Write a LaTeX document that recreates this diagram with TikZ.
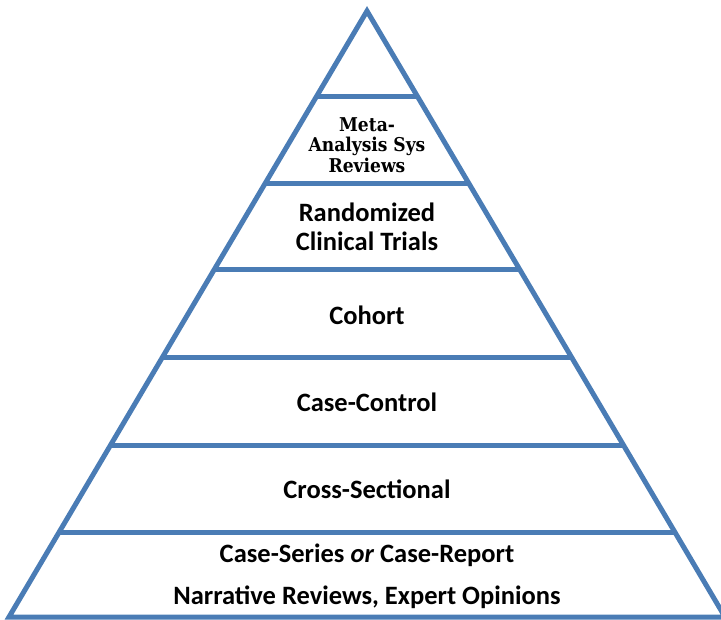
\documentclass[tikz,border=0pt]{standalone}
\usepackage{fontspec}
\setmainfont{Carlito}
\newfontfamily\metafont{DejaVu Serif Condensed}
\usetikzlibrary{calc}
\definecolor{pyrblue}{RGB}{74,124,181}
\tikzset{
  edge/.style={draw=pyrblue, line width=5pt, line join=miter},
  tier/.style={font=\bfseries\fontsize{26.5}{29}\selectfont, align=center, inner sep=0pt},
  toptier/.style={font=\metafont\bfseries\fontsize{19}{20.5}\selectfont, align=center, inner sep=0pt}
}
\begin{document}
\begin{tikzpicture}[x=1pt,y=-1pt]
  \useasboundingbox (0,0) rectangle (721,620);
  \coordinate (apex) at (367,11);
  \coordinate (bl) at (9,617);
  \coordinate (br) at (725,617);
  % outer triangle
  \draw[edge] (apex) -- (bl) -- (br) -- cycle;
  % tier dividers
  \foreach \y/\n in {97/a,184/b,270/c,358/d,446/e,533/f}{
    \coordinate (l\n) at ($(apex)!{(\y-11)/606}!(bl)$);
    \coordinate (r\n) at ($(apex)!{(\y-11)/606}!(br)$);
    \draw[edge] (l\n) -- (r\n);
  }
  % tier labels
  \node[toptier] (meta) at (367,145) {Meta-\\Analysis Sys\\Reviews};
  \node[tier] (rct) at (367,227) {Randomized\\Clinical Trials};
  \node[tier] (cohort) at (367,315) {Cohort};
  \node[tier] (cc) at (367,402) {Case-Control};
  \node[tier] (cs) at (367,489) {Cross-Sectional};
  \node[tier] (series) at (367,555) {Case-Series \textit{or} Case-Report};
  \node[tier] (narr) at (367,597) {Narrative Reviews, Expert Opinions};
\end{tikzpicture}
\end{document}
